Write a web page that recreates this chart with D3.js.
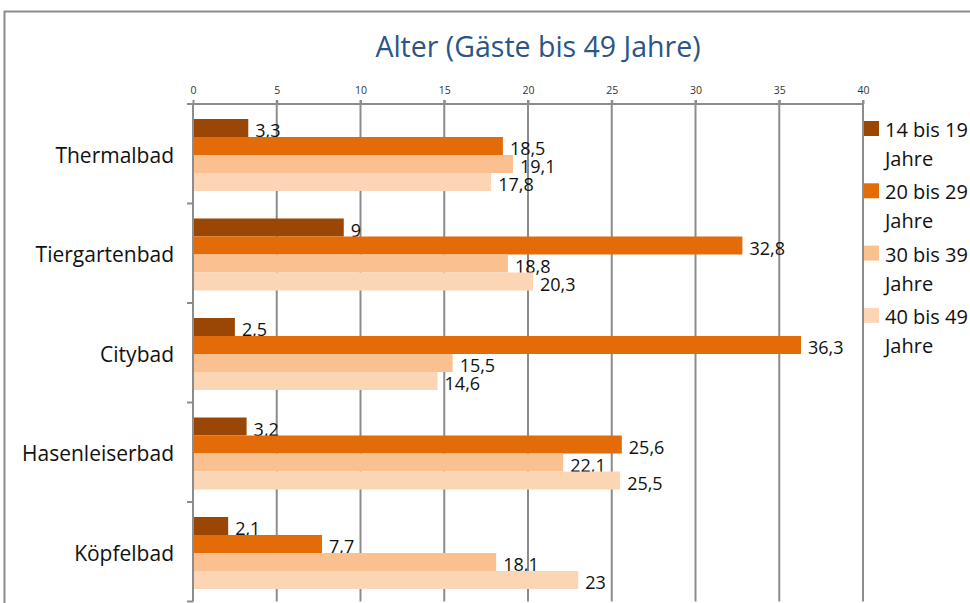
<!DOCTYPE html>
<html><head><meta charset="utf-8">
<script src="https://cdn.jsdelivr.net/npm/d3@7"></script>
<style>body{margin:0;background:#fff;}svg{display:block;}</style>
</head><body>
<svg id="c" width="970" height="603"></svg>
<script>
const categories = ["Thermalbad","Tiergartenbad","Citybad","Hasenleiserbad","Köpfelbad"];
const seriesNames = ["14 bis 19 Jahre","20 bis 29 Jahre","30 bis 39 Jahre","40 bis 49 Jahre"];
const s14_19 = [3.3, 9, 2.5, 3.2, 2.1];
const s20_29 = [18.5, 32.8, 36.3, 25.6, 7.7];
const s30_39 = [19.1, 18.8, 15.5, 22.1, 18.1];
const s40_49 = [17.8, 20.3, 14.6, 25.5, 23];
const tickValues = [0,5,10,15,20,25,30,35,40];
const colors = ["#9A4705","#E36C09","#FAC090","#FCD5B5"];
const series = [s14_19, s20_29, s30_39, s40_49];

const svg = d3.select("#c");
const font = "'Open Sans', sans-serif";
const gray = "#8c8c8c";

// outer border
svg.append("path").attr("d","M4.5,603 V11.5 H970").attr("fill","none").attr("stroke",gray).attr("stroke-width",2);

// title
svg.append("text").attr("x",538).attr("y",57).attr("text-anchor","middle")
  .attr("font-family",font).attr("font-size",28.5).attr("fill","#2B5586")
  .text("Alter (Gäste bis 49 Jahre)");

const x = d3.scaleLinear().domain([0,40]).range([193,863]);
const y = d3.scaleBand().domain(categories).range([104,601.5]);
const inner = d3.scaleBand().domain(d3.range(4)).range([0,72]);
const barOffset = 15;

// gridlines
svg.append("g").selectAll("line").data(tickValues.slice(1)).join("line")
  .attr("x1",d=>x(d)).attr("x2",d=>x(d)).attr("y1",100).attr("y2",601.5)
  .attr("stroke",gray).attr("stroke-width",2);

// top axis
const xAxis = d3.axisTop(x).tickValues(tickValues).tickSize(4).tickPadding(6).tickFormat(d3.format("d"));
const gx = svg.append("g").attr("transform","translate(0,104)").call(xAxis);
gx.select(".domain").attr("stroke",gray).attr("stroke-width",2).attr("d","M187,0H863");
gx.selectAll(".tick line").attr("stroke",gray).attr("stroke-width",2);
gx.selectAll(".tick text").attr("font-family",font).attr("font-size",10.5).attr("fill","#333");

// left axis
const yAxis = d3.axisLeft(y).tickSize(0).tickPadding(19);
const gy = svg.append("g").attr("transform","translate(193,0)").call(yAxis);
gy.select(".domain").attr("stroke",gray).attr("stroke-width",2).attr("d","M0,104V601.5");
gy.selectAll(".tick text").attr("font-family",font).attr("font-size",21).attr("fill","#111").attr("dy","0.43em");
// category boundary ticks
const bounds = categories.map(c=>y(c)).concat([y.range()[1]]);
svg.append("g").selectAll("line").data(bounds).join("line")
  .attr("x1",187).attr("x2",193).attr("y1",d=>d).attr("y2",d=>d)
  .attr("stroke",gray).attr("stroke-width",2);

// bars
const fmt = v => String(v).replace(".",",");
series.forEach((vals,si)=>{
  const g = svg.append("g");
  g.selectAll("rect").data(vals).join("rect")
    .attr("x",x(0)+1).attr("y",(d,i)=>y(categories[i])+barOffset+inner(si))
    .attr("width",d=>x(d)-x(0)-1).attr("height",inner.bandwidth())
    .attr("fill",colors[si]);
  g.selectAll("text").data(vals).join("text")
    .attr("x",d=>x(d)+7).attr("y",(d,i)=>y(categories[i])+barOffset+inner(si)+inner.bandwidth()/2+9)
    .attr("font-family",font).attr("font-size",18).attr("fill","#111")
    .text(fmt);
});

// legend
const leg = svg.append("g");
seriesNames.forEach((n,i)=>{
  const ly = 121 + i*62.3;
  leg.append("rect").attr("x",864).attr("y",ly).attr("width",15).attr("height",15).attr("fill",colors[i]);
  const parts = n.split(" Jahre");
  leg.append("text").attr("x",885).attr("y",ly+16).attr("font-family",font).attr("font-size",20).attr("fill","#111").text(parts[0]);
  leg.append("text").attr("x",885).attr("y",ly+45).attr("font-family",font).attr("font-size",20).attr("fill","#111").text("Jahre");
});
</script>
</body></html>
